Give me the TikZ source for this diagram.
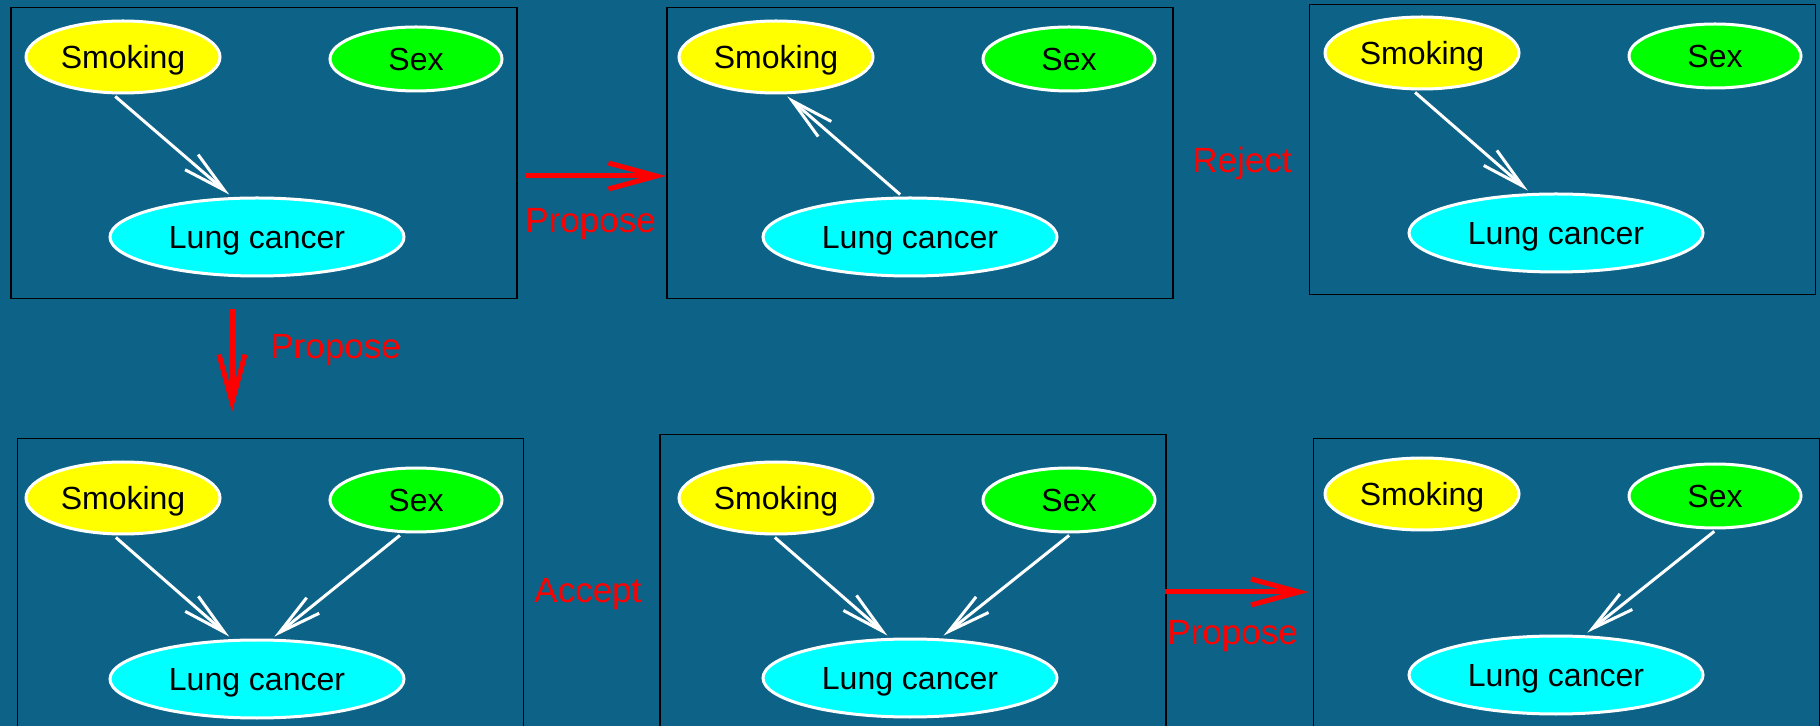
\documentclass[tikz,border=0pt]{standalone}
\usepackage{fontspec}
\setmainfont{Liberation Sans}
\usetikzlibrary{arrows.meta,shapes.geometric}
\definecolor{slideblue}{RGB}{12,99,135}
\definecolor{smokeyellow}{RGB}{255,255,0}
\definecolor{sexgreen}{RGB}{0,255,0}
\definecolor{lungcyan}{RGB}{0,255,255}

\begin{document}
\begin{tikzpicture}[x=0.5pt,y=-0.5pt,
    var/.style={ellipse,draw=white,line width=1.5pt,inner sep=0pt,text depth=0pt,font=\fontsize{16}{19}\selectfont},
    smoking/.style={var,fill=smokeyellow,minimum width=97pt,minimum height=36pt},
    sex/.style={var,fill=sexgreen,minimum width=86pt,minimum height=32pt},
    cancer/.style={var,fill=lungcyan,minimum width=147pt,minimum height=39pt},
    panel/.style={draw=black,line width=0.75pt,inner sep=0pt,anchor=north west,minimum width=253pt,minimum height=146pt},
    dep/.style={draw=white,line width=1.5pt,shorten <=1.5pt,shorten >=1.5pt,-{Straight Barb[length=21.5pt,width=10pt]}},
    proposal/.style={draw=red,line width=2.5pt,-{Straight Barb[length=24pt,width=13pt]}},
    verdict/.style={red,inner sep=0pt,anchor=base west,font=\fontsize{17.5}{21}\selectfont}]
    \useasboundingbox (0,0) rectangle (1820,726);
    \fill[slideblue] (0,0) rectangle (1820,726);

    % the six networks
    \node[panel,minimum height=145.5pt] (f1) at (10,7) {};
    \node[panel,minimum height=145.5pt] (f2) at (666,7) {};
    \node[panel,minimum height=145pt] (f3) at (1308.5,4) {};
    \node[panel] (f4) at (16.5,438) {};
    \node[panel,minimum height=148pt] (f5) at (659,434) {};
    \node[panel] (f6) at (1312.5,438) {};

    \node[smoking] (s1) at (123,57) {Smoking};
    \node[sex] (x1) at (416,59) {Sex};
    \node[cancer] (l1) at (257,237) {Lung cancer};
    \draw[dep] ([xshift=-5pt]s1.south) -- ([xshift=-12.75pt]l1.north);

    \node[smoking] (s2) at (776,57) {Smoking};
    \node[sex] (x2) at (1069,59) {Sex};
    \node[cancer] (l2) at (910,237) {Lung cancer};
    \draw[dep] ([xshift=-3.8pt]l2.north) -- ([xshift=4.5pt]s2.south);

    \node[smoking] (s3) at (1422,53) {Smoking};
    \node[sex] (x3) at (1715,56) {Sex};
    \node[cancer] (l3) at (1556,233) {Lung cancer};
    \draw[dep] ([xshift=-4.6pt]s3.south) -- ([xshift=-13pt]l3.north);

    \node[smoking] (s4) at (123,498) {Smoking};
    \node[sex] (x4) at (416,500) {Sex};
    \node[cancer] (l4) at (257,679) {Lung cancer};
    \draw[dep] ([xshift=-4.7pt]s4.south) -- ([xshift=-12.8pt]l4.north);
    \draw[dep] ([xshift=-6.9pt]x4.south) -- ([xshift=7.5pt]l4.north);

    \node[smoking] (s5) at (776,498) {Smoking};
    \node[sex] (x5) at (1069,500) {Sex};
    \node[cancer] (l5) at (910,678) {Lung cancer};
    \draw[dep] ([xshift=-1.7pt]s5.south) -- ([xshift=-10.2pt]l5.north);
    \draw[dep] ([xshift=1.25pt]x5.south) -- ([xshift=15.6pt]l5.north);

    \node[smoking] (s6) at (1422,494) {Smoking};
    \node[sex] (x6) at (1715,496) {Sex};
    \node[cancer] (l6) at (1556,675) {Lung cancer};
    \draw[dep] ([xshift=0.8pt]x6.south) -- ([xshift=14.5pt]l6.north);

    % moves between them
    \coordinate (m1) at (526,176);
    \coordinate (m2) at (232,309);
    \coordinate (m2end) at (232,412);
    \coordinate (m3) at (1165,592);
    \draw[proposal] (m1) -- (m1 -| f2.west);
    \draw[proposal] (m2) -- (m2end);
    \draw[proposal] (m3) -- ([xshift=-2pt]m3 -| f6.west);

    \node[verdict] (p1) at (525,233) {Propose};
    \node[verdict] (p2) at (270,359) {Propose};
    \node[verdict] (p3) at (1167,645) {Propose};
    \node[verdict] (rej) at (1192,173) {Reject};
    \node[verdict] (acc) at (534,603) {Accept};
\end{tikzpicture}
\end{document}
